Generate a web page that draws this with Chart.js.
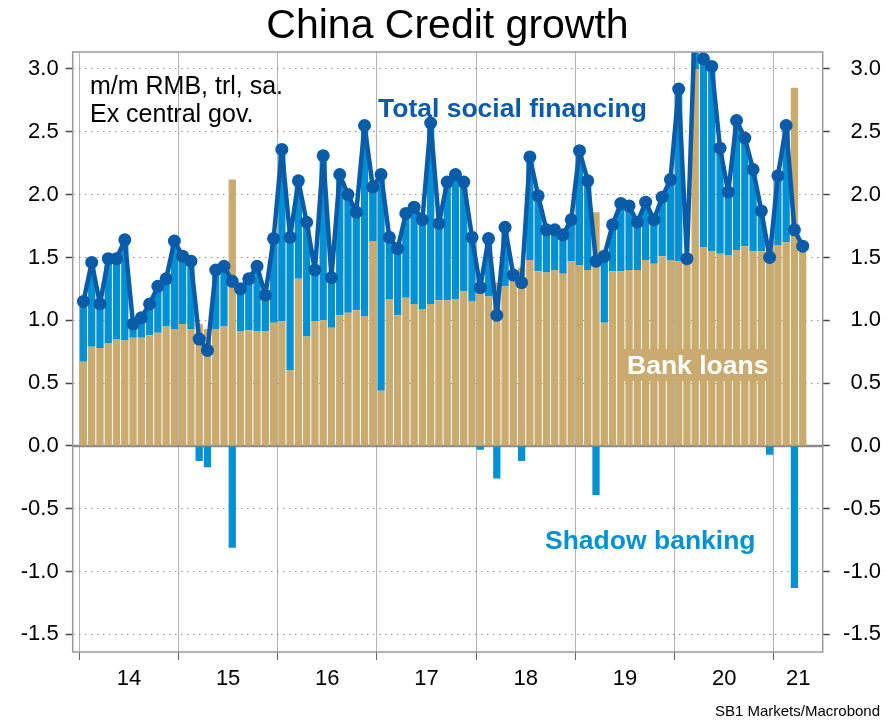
<!DOCTYPE html>
<html>
<head>
<meta charset="utf-8">
<title>China Credit growth</title>
<script src="https://cdn.jsdelivr.net/npm/chart.js@4.4.1/dist/chart.umd.min.js"></script>
<style>
  html, body { margin: 0; padding: 0; background: #fff; }
  canvas { display: block; }
</style>
</head>
<body>
<canvas id="credit" width="887" height="722"></canvas>
<script>
// m/m, RMB trl, seasonally adjusted. Monthly from Jan 2014 to Apr 2021.
var firstYear = 2014;
var yearLabels = ['14', '15', '16', '17', '18', '19', '20', '21'];

var bankLoans = [
  0.67, 0.79, 0.78, 0.82, 0.85, 0.84, 0.86, 0.86, 0.88, 0.90, 0.95, 0.93,
  0.97, 0.93, 0.97, 0.93, 0.93, 0.95, 2.12, 0.91, 0.92, 0.91, 0.91, 0.98,
  0.99, 0.60, 1.33, 0.87, 0.99, 1.00, 0.94, 1.04, 1.06, 1.08, 1.03, 1.63,
  0.44, 1.17, 1.04, 1.18, 1.13, 1.09, 1.13, 1.16, 1.16, 1.17, 1.23, 1.15,
  1.29, 1.19, 1.30, 1.27, 1.35, 1.42, 1.48, 1.39, 1.38, 1.40, 1.37, 1.47,
  1.44, 1.40, 1.86, 0.98, 1.39, 1.39, 1.40, 1.40, 1.48, 1.45, 1.51, 1.48,
  1.47, 1.46, 3.00, 1.58, 1.55, 1.53, 1.52, 1.56, 1.59, 1.55, 1.55, 1.57,
  1.60, 1.62, 2.85, 1.56
];

var shadowBanking = [
  0.48, 0.67, 0.35, 0.67, 0.64, 0.80, 0.11, 0.16, 0.25, 0.37, 0.38, 0.70,
  0.54, 0.54, -0.12, -0.17, 0.47, 0.48, -0.81, 0.34, 0.41, 0.52, 0.29, 0.67,
  1.37, 1.06, 0.78, 0.91, 0.41, 1.31, 0.40, 1.12, 0.94, 0.78, 1.52, 0.43,
  1.72, 0.49, 0.53, 0.67, 0.77, 0.71, 1.44, 0.61, 0.94, 0.99, 0.87, 0.51,
  -0.03, 0.46, -0.26, 0.47, 0.01, -0.12, 0.82, 0.60, 0.34, 0.32, 0.31, 0.33,
  0.91, 0.71, -0.39, 0.53, 0.37, 0.54, 0.51, 0.38, 0.46, 0.35, 0.47, 0.64,
  1.37, 0.03, 0.45, 1.50, 1.47, 0.84, 0.50, 1.03, 0.86, 0.65, 0.32, -0.07,
  0.55, 0.93, -1.13, 0.03
];

var totalFinancing = [
  1.15, 1.46, 1.13, 1.49, 1.49, 1.64, 0.97, 1.02, 1.13, 1.27, 1.33, 1.63,
  1.51, 1.47, 0.85, 0.76, 1.40, 1.43, 1.31, 1.25, 1.33, 1.43, 1.20, 1.65,
  2.36, 1.66, 2.11, 1.78, 1.40, 2.31, 1.34, 2.16, 2.00, 1.86, 2.55, 2.06,
  2.16, 1.66, 1.57, 1.85, 1.90, 1.80, 2.57, 1.77, 2.10, 2.16, 2.10, 1.66,
  1.26, 1.65, 1.04, 1.74, 1.36, 1.30, 2.30, 1.99, 1.72, 1.72, 1.68, 1.80,
  2.35, 2.11, 1.47, 1.51, 1.76, 1.93, 1.91, 1.78, 1.94, 1.80, 1.98, 2.12,
  2.84, 1.49, 3.45, 3.08, 3.02, 2.37, 2.02, 2.59, 2.45, 2.20, 1.87, 1.50,
  2.15, 2.55, 1.72, 1.59
];

var yTicks = [-1.5, -1.0, -0.5, 0.0, 0.5, 1.0, 1.5, 2.0, 2.5, 3.0];

var months = bankLoans.map(function (v, i) {
  var m = i % 12 + 1;
  return (firstYear + Math.floor(i / 12)) + '-' + (m < 10 ? '0' + m : m);
});

var TAN = '#c9aa6f';
var BLUE = '#0091d4';
var NAVY = '#0b5ca8';
var FONT = "'Liberation Sans', Arial, sans-serif";

// x is measured in months from Jan 2014; bars sit in the middle of their month
var xMin = -0.8, xMax = 89.92;
var yMin = -1.64, yMax = 3.135;

var yearStarts = yearLabels.map(function (l, i) { return i * 12; });
var yearMids = yearLabels.map(function (l, i) {
  var end = Math.min(i * 12 + 12, xMax);
  return (i * 12 + end) / 2;
});

function points(arr) {
  return arr.map(function (v, i) { return { x: i + 0.5, y: v }; });
}

function isYearStart(v) { return yearStarts.indexOf(v) !== -1; }

var decor = {
  id: 'decor',
  beforeDatasetsDraw: function (chart) {
    var ctx = chart.ctx, a = chart.chartArea;
    var y0 = chart.scales.y.getPixelForValue(0);
    ctx.save();
    ctx.strokeStyle = '#8a8a8a';
    ctx.lineWidth = 2.5;
    ctx.beginPath();
    ctx.moveTo(a.left, y0);
    ctx.lineTo(a.right, y0);
    ctx.stroke();
    ctx.restore();
  },
  afterDraw: function (chart) {
    var ctx = chart.ctx, a = chart.chartArea;
    ctx.save();
    // frame
    ctx.strokeStyle = '#9a9a9a';
    ctx.lineWidth = 1.5;
    ctx.strokeRect(a.left, a.top, a.right - a.left, a.bottom - a.top);

    ctx.textBaseline = 'alphabetic';
    ctx.textAlign = 'center';
    ctx.fillStyle = '#000';
    ctx.font = '41px ' + FONT;
    ctx.fillText('China Credit growth', 447.5, 38);

    ctx.textAlign = 'left';
    ctx.font = '25px ' + FONT;
    ctx.fillText('m/m RMB, trl, sa.', 90, 94);
    ctx.fillText('Ex central gov.', 90, 122);

    ctx.font = 'bold 26.5px ' + FONT;
    ctx.fillStyle = NAVY;
    ctx.fillText('Total social financing', 378, 117);

    ctx.fillStyle = TAN;
    ctx.fillRect(621, 349, 152, 32);
    ctx.fillStyle = '#fff';
    ctx.fillText('Bank loans', 627, 374);

    ctx.fillStyle = BLUE;
    ctx.fillText('Shadow banking', 545, 549);

    ctx.textAlign = 'right';
    ctx.fillStyle = '#000';
    ctx.font = '15px ' + FONT;
    ctx.fillText('SB1 Markets/Macrobond', 880, 716);
    ctx.restore();
  }
};

new Chart(document.getElementById('credit'), {
  type: 'bar',
  data: {
    datasets: [
      {
        type: 'bar',
        label: 'Bank loans',
        data: points(bankLoans),
        backgroundColor: TAN,
        stack: 'credit',
        order: 2,
        barPercentage: 0.88,
        categoryPercentage: 1,
        yAxisID: 'y'
      },
      {
        type: 'bar',
        label: 'Shadow banking',
        data: points(shadowBanking),
        backgroundColor: BLUE,
        stack: 'credit',
        order: 2,
        barPercentage: 0.88,
        categoryPercentage: 1,
        yAxisID: 'y'
      },
      {
        type: 'line',
        label: 'Total social financing',
        data: points(totalFinancing),
        borderColor: NAVY,
        backgroundColor: NAVY,
        borderWidth: 4.5,
        borderJoinStyle: 'round',
        borderCapStyle: 'round',
        pointRadius: 6.5,
        pointBorderWidth: 0,
        pointBackgroundColor: NAVY,
        tension: 0,
        order: 0,
        yAxisID: 'y2'
      }
    ]
  },
  options: {
    responsive: false,
    animation: false,
    layout: { padding: { top: 52, right: 6, left: 0, bottom: 0 } },
    plugins: {
      legend: { display: false },
      tooltip: {
        callbacks: {
          title: function (items) { return months[Math.floor(items[0].parsed.x)]; }
        }
      }
    },
    scales: {
      x: {
        type: 'linear',
        min: xMin,
        max: xMax,
        offset: false,
        stacked: true,
        afterFit: function (s) { s.height = 70; },
        afterBuildTicks: function (s) {
          s.ticks = yearStarts.concat(yearMids).map(function (v) { return { value: v }; });
        },
        border: { display: false },
        grid: {
          offset: false,
          lineWidth: 1,
          color: function (c) { return c.tick && isYearStart(c.tick.value) ? '#b4b4b4' : 'rgba(0,0,0,0)'; },
          tickColor: function (c) { return c.tick && isYearStart(c.tick.value) ? '#666' : 'rgba(0,0,0,0)'; },
          tickLength: 8
        },
        ticks: {
          autoSkip: false,
          maxRotation: 0,
          padding: 6,
          color: '#000',
          font: { family: FONT, size: 22 },
          callback: function (v) {
            var k = yearMids.indexOf(v);
            return k === -1 ? '' : yearLabels[k];
          }
        }
      },
      y: {
        position: 'left',
        stacked: true,
        min: yMin,
        max: yMax,
        afterFit: function (s) { s.width = 72.7; },
        afterBuildTicks: function (s) {
          s.ticks = yTicks.map(function (v) { return { value: v }; });
        },
        border: { display: false, dash: [1.5, 4.5] },
        grid: {
          color: '#8c8c8c',
          lineWidth: 1,
          tickLength: 7,
          tickColor: '#444',
          tickWidth: 1.5
        },
        ticks: {
          padding: 7,
          color: '#000',
          font: { family: FONT, size: 22 },
          callback: function (v) { return v.toFixed(1); }
        }
      },
      y2: {
        position: 'right',
        min: yMin,
        max: yMax,
        afterFit: function (s) { s.width = 58.3; },
        afterBuildTicks: function (s) {
          s.ticks = yTicks.map(function (v) { return { value: v }; });
        },
        border: { display: false },
        grid: {
          drawOnChartArea: false,
          tickLength: 7,
          tickColor: '#444',
          tickWidth: 1.5
        },
        ticks: {
          crossAlign: 'far',
          padding: 7,
          color: '#000',
          font: { family: FONT, size: 22 },
          callback: function (v) { return v.toFixed(1); }
        }
      }
    }
  },
  plugins: [decor]
});
</script>
</body>
</html>
